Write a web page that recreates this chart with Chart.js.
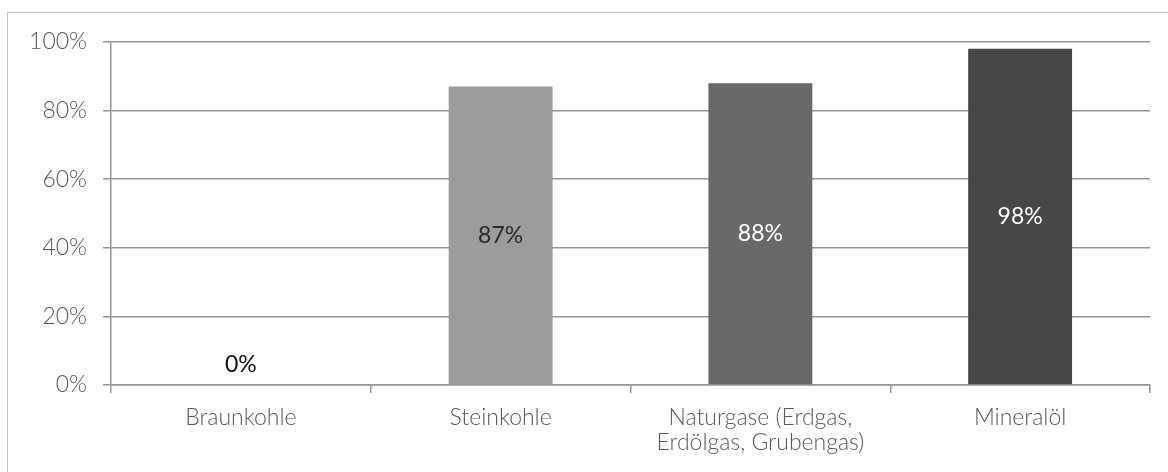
<!DOCTYPE html>
<html>
<head>
<meta charset="utf-8">
<title>Anteil Energieträger</title>
<script src="https://cdn.jsdelivr.net/npm/chart.js"></script>
<style>
  html, body { margin: 0; padding: 0; background: #fff; overflow: hidden; }
  #wrap { position: relative; width: 1168px; height: 472px; }
  #frame { position: absolute; left: 7px; top: 12px; width: 1200px; height: 500px; border: 1px solid #c4c4c4; }
  canvas { position: absolute; left: 0; top: 0; }
</style>
</head>
<body>
<div id="wrap">
  <div id="frame"></div>
  <canvas id="chart" width="1168" height="472"></canvas>
</div>
<script>
// Categories and shares in percent
const categories = ['Braunkohle', 'Steinkohle', ['Naturgase (Erdgas,', 'Erdölgas, Grubengas)'], 'Mineralöl'];
const shares = [0, 87, 88, 98];
const yTicks = [0, 20, 40, 60, 80, 100];

const barColors = ['#9c9c9c', '#9c9c9c', '#696969', '#474747'];
const labelColors = ['#111111', '#2b2b2b', '#ffffff', '#ffffff'];
const FONT = 'Lato, "Open Sans", sans-serif';

// value labels centred inside each bar, zero values sit above the baseline
const valueLabels = {
  id: 'valueLabels',
  afterDatasetsDraw(chart) {
    const ctx = chart.ctx;
    const meta = chart.getDatasetMeta(0);
    ctx.save();
    ctx.font = '400 23px ' + FONT;
    ctx.textAlign = 'center';
    ctx.textBaseline = 'middle';
    meta.data.forEach((bar, i) => {
      const v = shares[i];
      const y = v === 0 ? bar.base - 20 : (bar.y + bar.base) / 2;
      ctx.fillStyle = labelColors[i];
      ctx.fillText(v + '%', bar.x, y);
    });
    ctx.restore();
  }
};

new Chart(document.getElementById('chart'), {
  type: 'bar',
  data: {
    labels: categories,
    datasets: [{
      data: shares,
      backgroundColor: barColors,
      barPercentage: 0.4,
      categoryPercentage: 1.0
    }]
  },
  options: {
    responsive: false,
    animation: false,
    layout: { padding: { top: 42, right: 18, left: 0, bottom: 0 } },
    plugins: { legend: { display: false }, tooltip: { enabled: false } },
    scales: {
      x: {
        offset: true,
        grid: { offset: true, drawOnChartArea: false, tickLength: 8, color: '#959595', lineWidth: 1.5 },
        border: { color: '#959595', width: 1.5 },
        ticks: { color: '#595959', font: { family: FONT, size: 23, weight: '300', lineHeight: 1.1 }, padding: 12, maxRotation: 0 },
        afterFit(scale) { scale.height = 87; }
      },
      y: {
        min: 0,
        max: 100,
        afterBuildTicks(scale) { scale.ticks = yTicks.map(v => ({ value: v })); },
        grid: { tickLength: 8, color: '#959595', lineWidth: 1.5 },
        border: { color: '#959595', width: 1.5 },
        ticks: { color: '#595959', font: { family: FONT, size: 23, weight: '300' }, padding: 16,
                 callback: v => v + '%' },
        afterFit(scale) { scale.width = 111; }
      }
    }
  },
  plugins: [valueLabels]
});
</script>
</body>
</html>
